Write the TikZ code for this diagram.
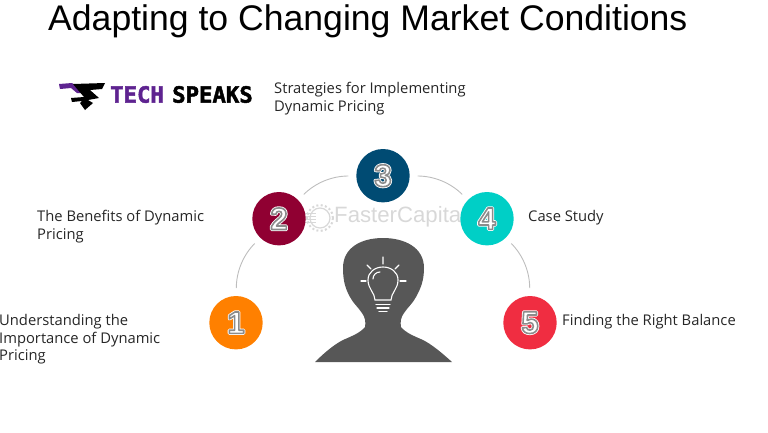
\documentclass[tikz,border=0pt]{standalone}
\usepackage{fontspec}
\setmainfont{Open Sans}
\newfontfamily\titlefont{Liberation Sans}
\newfontfamily\logofont[FakeBold=2]{DejaVu Sans Mono Bold}
\definecolor{headgray}{HTML}{575757}
\definecolor{arcgray}{HTML}{BDBDBD}
\definecolor{wmgray}{HTML}{D8D8D8}
\definecolor{logopurple}{HTML}{5E2390}
\definecolor{dotone}{HTML}{FF8000}
\definecolor{dottwo}{HTML}{900032}
\definecolor{dotthree}{HTML}{004B73}
\definecolor{dotfour}{HTML}{00CFC6}
\definecolor{dotfive}{HTML}{F02D41}
\newcommand{\digitmark}[1]{\rlap{\special{pdf:code 2 Tr 3.2 w 1 j 1 1 1 RG}#1}\special{pdf:code 2 Tr 1.6 w 1 j 0.55 0.55 0.55 RG}#1\special{pdf:code 0 Tr}}
\tikzset{
	numdot/.style={circle,minimum size=53.4pt,inner sep=0pt,outer sep=0pt,text=white,font=\titlefont\bfseries\fontsize{31}{31}\selectfont},
	arcline/.style={draw=arcgray,line width=0.9pt,shorten <=8pt,shorten >=8pt},
	caption/.style={anchor=north west,align=left,inner sep=0pt,font=\fontsize{14.75}{17.6}\selectfont,text=black!85}
}
\begin{document}
\begin{tikzpicture}[x=1pt,y=-1pt]

	\useasboundingbox (0,0) rectangle (768,432);

	\node[inner sep=0pt,anchor=west,font=\titlefont\fontsize{35.6}{38}\selectfont] (title) at (48,21) {Adapting to Changing Market Conditions};

	% logo
	\fill[logopurple] (59,84) -- (72,83) -- (84,93) -- (77,93) -- (71,88) -- (60,89) -- cycle;
	\fill[black] (73,84) -- (105,83) -- (102,89) -- (90,90) -- (99,98) -- (88,100) -- (93,103) -- (85,110) -- (80,103) -- (82,101) -- (72,102) -- (71,98) -- (84,97) -- (78,90) -- cycle;
	\node[inner sep=0pt,anchor=west,text=logopurple,font=\logofont\fontsize{22.3}{22}\selectfont] (tech) at (110,94.5) {TECH};
	\node[inner sep=0pt,anchor=west,text=black,font=\logofont\fontsize{22.3}{22}\selectfont] (speaks) at (172,94.5) {SPEAKS};

	% watermark
	\node[circle,draw=wmgray,line width=1.2pt,minimum size=20pt,inner sep=0pt] (gear) at (320,218) {};
	\draw[wmgray,line width=2pt,dash pattern=on 2pt off 2.4pt] (gear) circle (13pt);
	\foreach \yy in {213,216,219,222}
		\draw[wmgray,line width=1pt] (300,\yy) -- (316,\yy);
	\node[inner sep=0pt,anchor=west,text=wmgray,font=\titlefont\fontsize{22.2}{22}\selectfont] (mark) at (334,217) {FasterCapital};

	% head
	\fill[headgray] (315,362) .. controls (325,352) and (335,344) .. (343,340)
		.. controls (352,336) and (360,333) .. (365,327)
		.. controls (366,322) and (365,317) .. (362,313)
		.. controls (358,307) and (353,303) .. (350,297)
		.. controls (345,288) and (343,280) .. (343,268)
		.. controls (343,247) and (362,238) .. (383,238)
		.. controls (404,238) and (424,247) .. (424,268)
		.. controls (424,280) and (421,288) .. (416,297)
		.. controls (413,303) and (408,307) .. (404,313)
		.. controls (401,317) and (400,322) .. (401,327)
		.. controls (406,333) and (414,336) .. (423,340)
		.. controls (431,344) and (441,352) .. (452,362) -- cycle;

	% bulb
	\begin{scope}[white,line width=1.1pt,line cap=round]
		\draw (375,300) .. controls (375,293) and (368,289) .. (368,280)
			.. controls (368,272) and (375,267) .. (383,267)
			.. controls (391,267) and (398,272) .. (398,280)
			.. controls (398,289) and (391,293) .. (391,300) -- cycle;
		\draw (376,304.5) -- (390,304.5) (377,308) -- (389,308);
		\draw (379,311.5) -- (387,311.5);
		\draw (373,279) .. controls (373,275) and (376,272) .. (380,272);
		\draw (383,257) -- (383,264) (367,265) -- (371,269) (399,265) -- (395,269);
		\draw (361,281) -- (366,281) (400,281) -- (406,281);
	\end{scope}

	% numbered dots
	\node[numdot,fill=dotone] (d1) at (236,322.7) {\digitmark{1}};
	\node[numdot,fill=dottwo] (d2) at (279,218.7) {\digitmark{2}};
	\node[numdot,fill=dotthree] (d3) at (383,175.7) {\digitmark{3}};
	\node[numdot,fill=dotfour] (d4) at (487,218.7) {\digitmark{4}};
	\node[numdot,fill=dotfive] (d5) at (530,322.7) {\digitmark{5}};

	\draw[arcline] (d1) to[bend left=22] (d2);
	\draw[arcline] (d2) to[bend left=22] (d3);
	\draw[arcline] (d3) to[bend left=22] (d4);
	\draw[arcline] (d4) to[bend left=22] (d5);

	% captions
	\node[caption] (t1) at (-1,314) {Understanding the\\Importance of Dynamic\\Pricing};
	\node[caption] (t2) at (37,210) {The Benefits of Dynamic\\Pricing};
	\node[caption] (t3) at (274,82) {Strategies for Implementing\\Dynamic Pricing};
	\node[caption] (t4) at (528,210) {Case Study};
	\node[caption] (t5) at (562,314) {Finding the Right Balance};

\end{tikzpicture}
\end{document}
